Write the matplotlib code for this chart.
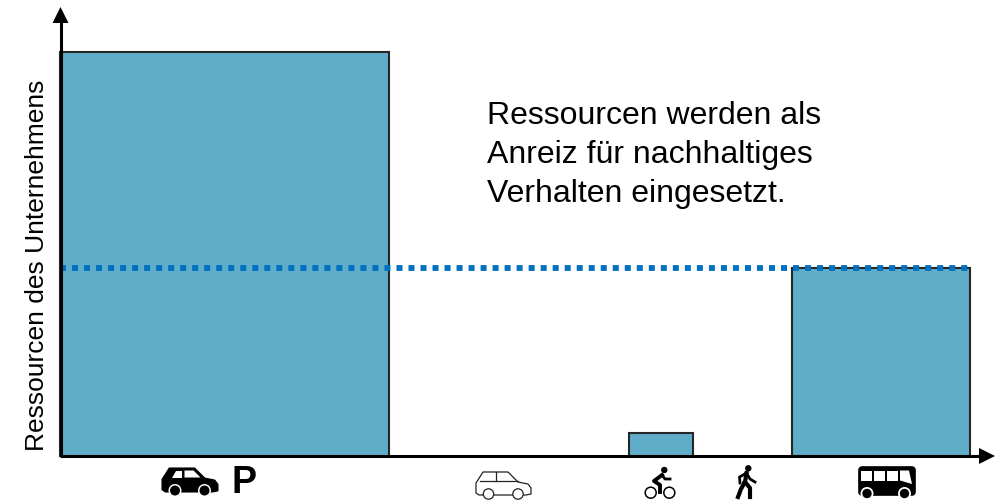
import matplotlib
matplotlib.use('Agg')
import matplotlib.pyplot as plt
from matplotlib.patches import Polygon, Circle, Rectangle, FancyBboxPatch

plt.rcParams['font.family'] = ['Liberation Sans', 'DejaVu Sans']

bar_left = [60, 629, 792]
bar_width = [329, 64, 178]
bar_height = [404, 23, 188]
budget_level = 188
ylabel = 'Ressourcen des Unternehmens'
note = 'Ressourcen werden als\nAnreiz für nachhaltiges\nVerhalten eingesetzt.'

W, H = 999, 500
X0, X1, Y0, Y1 = 60, 970, 456, 12

fig = plt.figure(figsize=(W / 100, H / 100), dpi=100)
ax = fig.add_axes([X0 / W, 1 - Y0 / H, (X1 - X0) / W, (Y0 - Y1) / H])
ax.set_xlim(X0, X1)
ax.set_ylim(0, Y0 - Y1)
ax.bar(bar_left, bar_height, width=bar_width, align='edge', color='#5FADC9',
       edgecolor='#262626', linewidth=1.5, clip_on=False)
ax.plot([X0, X1], [budget_level, budget_level], color='#0070C0', lw=4.2,
        linestyle=(0, (1.03, 1.03)), clip_on=False, zorder=5)
ax.set_xticks([])
ax.set_yticks([])
ax.patch.set_alpha(0)
for s in ['top', 'right', 'left', 'bottom']:
    ax.spines[s].set_visible(False)

# overlay in pixel coordinates for the axis arrows and the icons
ov = fig.add_axes([0, 0, 1, 1])
ov.set_xlim(0, W)
ov.set_ylim(H, 0)
ov.axis('off')
ov.patch.set_alpha(0)

ov.plot([60.5, 60.5], [456, 20], color='black', lw=2.2, solid_capstyle='butt')
ov.plot([60, 982], [456, 456], color='black', lw=2.2, solid_capstyle='butt')
ov.add_patch(Polygon([(60.5, 7), (52.5, 23), (68.5, 23)], color='black', lw=0))
ov.add_patch(Polygon([(995, 456), (979, 448), (979, 464)], color='black', lw=0))


def car(ox, oy, filled):
    # shape in px relative to the top left corner of the icon
    body = [(7, 0), (32, 0), (42, 10), (52, 12), (55, 16), (55, 22), (50, 23),
            (3, 23), (0, 21), (0, 11)]
    body = [(ox + x, oy + y) for x, y in body]
    wheels = [(ox + 12.5, oy + 22), (ox + 42, oy + 22)]
    if filled:
        ov.add_patch(Polygon(body, fc='black', ec='black', lw=1.5, joinstyle='round'))
        for w in [[(9, 9), (19, 9), (19, 2), (13, 2)], [(22, 2), (31, 2), (38, 9), (22, 9)]]:
            ov.add_patch(Polygon([(ox + x, oy + y) for x, y in w], fc='white', lw=0))
        for c in wheels:
            ov.add_patch(Circle(c, 6.5, fc='white', lw=0))
            ov.add_patch(Circle(c, 5, fc='black', lw=0))
    else:
        ov.add_patch(Polygon(body, fc='white', ec='#222222', lw=0.9, joinstyle='round'))
        ov.plot([ox + 19.5, ox + 19.5], [oy, oy + 9], color='#222222', lw=0.9)
        ov.plot([ox + 4, ox + 42], [oy + 9, oy + 9], color='#222222', lw=0.9)
        for c in wheels:
            ov.add_patch(Circle(c, 5.2, fc='white', ec='#222222', lw=0.9))


car(162.5, 468.5, True)
car(476, 472, False)
ov.text(232, 493, 'P', fontsize=27, fontweight='bold', ha='left', va='baseline', color='black')

# bicycle
for c in [(650.7, 492.7), (669.3, 492.7)]:
    ov.add_patch(Circle(c, 5.5, fc='white', ec='black', lw=1.1))
ov.add_patch(Circle((664.3, 470), 3.2, fc='black', lw=0))
ov.plot([662, 654, 660, 660], [475, 481, 485, 492], color='black', lw=2.8)
ov.plot([662, 665, 670], [475, 479, 479], color='black', lw=2.0)

# walker
ov.add_patch(Circle((748.3, 468.3), 3.2, fc='black', lw=0))
ov.plot([746.5, 745, 741, 738], [473, 482, 489, 497], color='black', lw=3.0)
ov.plot([745, 750, 750], [482, 488, 497], color='black', lw=3.0)
ov.plot([746.5, 739.5, 740], [473, 477, 483], color='black', lw=2.0)
ov.plot([746.5, 750, 755], [473, 479, 482], color='black', lw=2.0)

# bus
ov.add_patch(FancyBboxPatch((859, 467), 56, 28, boxstyle='round,pad=0,rounding_size=3.5',
                            fc='black', ec='black', lw=1.2))
for wx in [861, 874, 887]:
    ov.add_patch(Rectangle((wx, 470.5), 10.5, 10, fc='white', lw=0))
ov.add_patch(Polygon([(900, 470.5), (909, 470.5), (912, 484), (900, 480.5)], fc='white', lw=0))
for c in [(867, 493.5), (904.5, 493.5)]:
    ov.add_patch(Circle(c, 6.5, fc='white', lw=0))
    ov.add_patch(Circle(c, 4.7, fc='black', lw=0))

ov.text(37.5, 265, ylabel, rotation=90, fontsize=19, ha='center', va='center', color='black')
ov.text(487, 155, note, fontsize=23, ha='left', va='center', color='black', linespacing=1.4)

fig.savefig('out.png', dpi=100, facecolor='white')
